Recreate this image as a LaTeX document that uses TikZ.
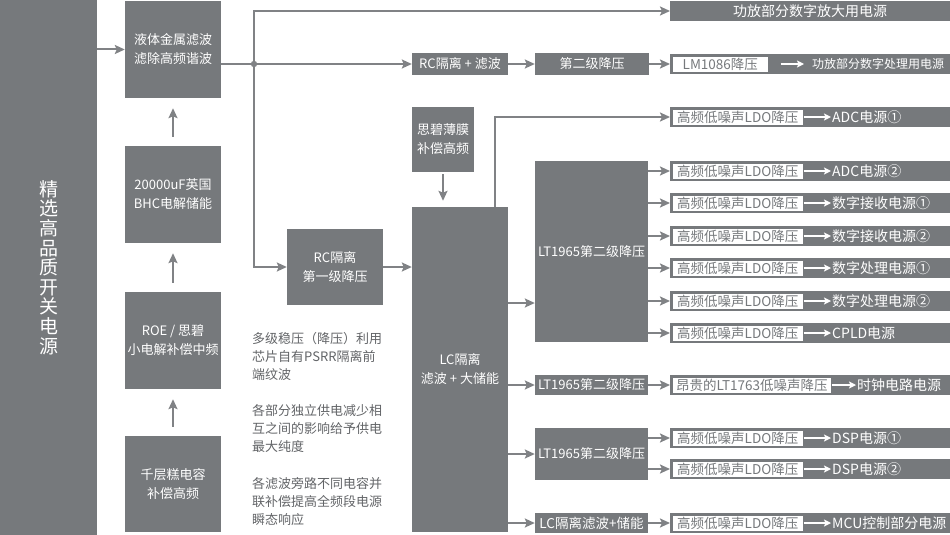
\documentclass[tikz,border=0pt]{standalone}
\usepackage{fontspec}
\setmainfont{Noto Sans CJK SC}
\usetikzlibrary{arrows.meta,positioning}
\definecolor{boxgray}{RGB}{118,121,124}
\definecolor{linegray}{RGB}{128,130,133}
\definecolor{notegray}{RGB}{98,100,103}

\begin{document}
\begin{tikzpicture}[x=1pt,y=-1pt,
  box/.style={fill=boxgray,text=white,inner sep=0pt,align=center,font=\fontsize{13}{19}\selectfont},
  ar/.style={draw=linegray,line width=2pt,-{Stealth[length=10pt,width=9pt,inset=2pt]}},
  war/.style={draw=white,line width=1.5pt,-{Stealth[length=7pt,width=7pt,inset=1.5pt]},shorten >=1pt},
  bar/.style={fill=boxgray,minimum width=280pt,minimum height=20pt,inner sep=0pt,anchor=west},
  ldo/.style={fill=white,draw=boxgray,line width=0.6pt,minimum height=16pt,inner sep=0pt,anchor=west,text=boxgray,font=\fontsize{13.5}{16}\selectfont},
  lbl/.style={text=white,inner sep=0pt,anchor=west,font=\fontsize{14}{16}\selectfont},
  note/.style={text=notegray,inner sep=0pt,anchor=west,align=left,font=\fontsize{13}{18}\selectfont}]
\useasboundingbox (0,0) rectangle (950,535);

\node[box,minimum width=97pt,minimum height=535pt,font=\fontsize{19}{19.6}\selectfont] (src) at (48.5,267.5) {精\\选\\高\\品\\质\\开\\关\\电\\源};
\node[box,minimum width=96pt,minimum height=97pt] (liq) at (173,49.5) {液体金属滤波\\滤除高频谐波};
\node[box,minimum width=96pt,minimum height=97pt] (cap) at (173,194.5) {20000uF英国\\BHC电解储能};
\node[box,minimum width=96pt,minimum height=97pt] (roe) at (173,340.5) {ROE / 思碧\\小电解补偿中频};
\node[box,minimum width=96pt,minimum height=96pt] (mlc) at (173,484) {千层糕电容\\补偿高频};
\draw[ar] (src.east |- liq) -- (liq.west);
\draw[ar,shorten <=9pt,shorten >=10pt] (cap) -- (liq);
\draw[ar,shorten <=9pt,shorten >=10pt] (roe) -- (cap);
\draw[ar,shorten <=9pt,shorten >=10pt] (mlc) -- (roe);

\node[box,minimum width=96pt,minimum height=21pt] (rcf) at (460,64) {RC隔离 + 滤波};
\node[box,minimum width=114pt,minimum height=21pt] (sec) at (592,64) {第二级降压};
\node[box,minimum width=96pt,minimum height=76pt] (rc1) at (335,267) {RC隔离\\第一级降压};
\node[box,minimum width=62pt,minimum height=65pt] (thin) at (443,139.5) {思碧薄膜\\补偿高频};
\node[box,minimum width=96pt,minimum height=325pt] (lc) at (460,369.5) {LC隔离\\滤波 + 大储能};
\node[box,minimum width=113pt,minimum height=181pt] (lt) at (591.5,251.5) {LT1965第二级降压};
\node[box,minimum width=113pt,minimum height=20pt] (lt2) at (591.5,385) {LT1965第二级降压};
\node[box,minimum width=113pt,minimum height=52pt] (lt3) at (591.5,454) {LT1965第二级降压};
\node[box,minimum width=113pt,minimum height=20pt,font=\fontsize{13.5}{16}\selectfont] (lt4) at (591.5,523) {LC隔离滤波+储能};

\node[bar,text=white,font=\fontsize{14}{16}\selectfont] (top) at (670,11) {功放部分数字放大用电源};
\node[bar] (rm) at (670,64) {};
\node[ldo,minimum width=96pt] (lm) at ([xshift=2pt]rm.west) {LM1086降压};
\node[lbl,font=\fontsize{12}{14}\selectfont] (tm) at (812,64) {功放部分数字处理用电源};
\draw[war,shorten <=12pt,shorten >=8pt] (lm) -- (tm);
\node[bar] (rk) at (670,385) {};
\node[ldo,minimum width=159pt] (lk) at ([xshift=2pt]rk.west) {昂贵的LT1763低噪声降压};
\node[lbl] (tk) at (857,385) {时钟电路电源};
\draw[war] (lk) -- (tk);
\foreach \y/\t [count=\i] in {117/ADC电源①,171/ADC电源②,203/数字接收电源①,236/数字接收电源②,268/数字处理电源①,301/数字处理电源②,333/CPLD电源,438/DSP电源①,469/DSP电源②,523/MCU控制部分电源}{
  \node[bar] (r\i) at (670,\y) {};
  \node[ldo,minimum width=131pt] (l\i) at ([xshift=2pt]r\i.west) {高频低噪声LDO降压};
  \node[lbl] (t\i) at (832,\y) {\t};
  \draw[war] (l\i) -- (t\i);
}

\coordinate (j) at (254,64);
\coordinate (lcy) at (0,303);
\draw[draw=linegray,line width=2pt] (liq.east |- j) -- (j);
\draw[ar] (j) |- (top.west);
\draw[ar] (j) -- (rcf);
\draw[ar] (j) |- (rc1);
\fill[linegray] (j) circle (3.2pt);
\draw[ar] (rcf) -- (sec);
\draw[ar] (sec) -- (rm.west);
\draw[ar] (rc1) -- (rc1 -| lc.west);
\draw[ar,shorten <=2pt,shorten >=6pt] (thin) -- (thin |- lc.north);
\draw[ar] ([xshift=35pt]lc.north) |- (r1.west);
\draw[ar] (lc.east |- lcy) -- (lt.west |- lcy);
\draw[ar] (lc.east |- lt2) -- (lt2);
\draw[ar] (lc.east |- lt3) -- (lt3);
\draw[ar] (lc.east |- lt4) -- (lt4);
\draw[ar] (lt2) -- (rk.west);
\foreach \i in {2,...,7} \draw[ar] (lt.east |- r\i.west) -- (r\i.west);
\foreach \i in {8,9} \draw[ar] (lt3.east |- r\i.west) -- (r\i.west);
\draw[ar] (lt4) -- (r10.west);

\node[note] (n1) at (252,356) {多级稳压（降压）利用\\芯片自有PSRR隔离前\\端纹波};
\node[note] (n2) at (252,429) {各部分独立供电减少相\\互之间的影响给予供电\\最大纯度};
\node[note] (n3) at (252,502) {各滤波旁路不同电容并\\联补偿提高全频段电源\\瞬态响应};
\end{tikzpicture}
\end{document}
